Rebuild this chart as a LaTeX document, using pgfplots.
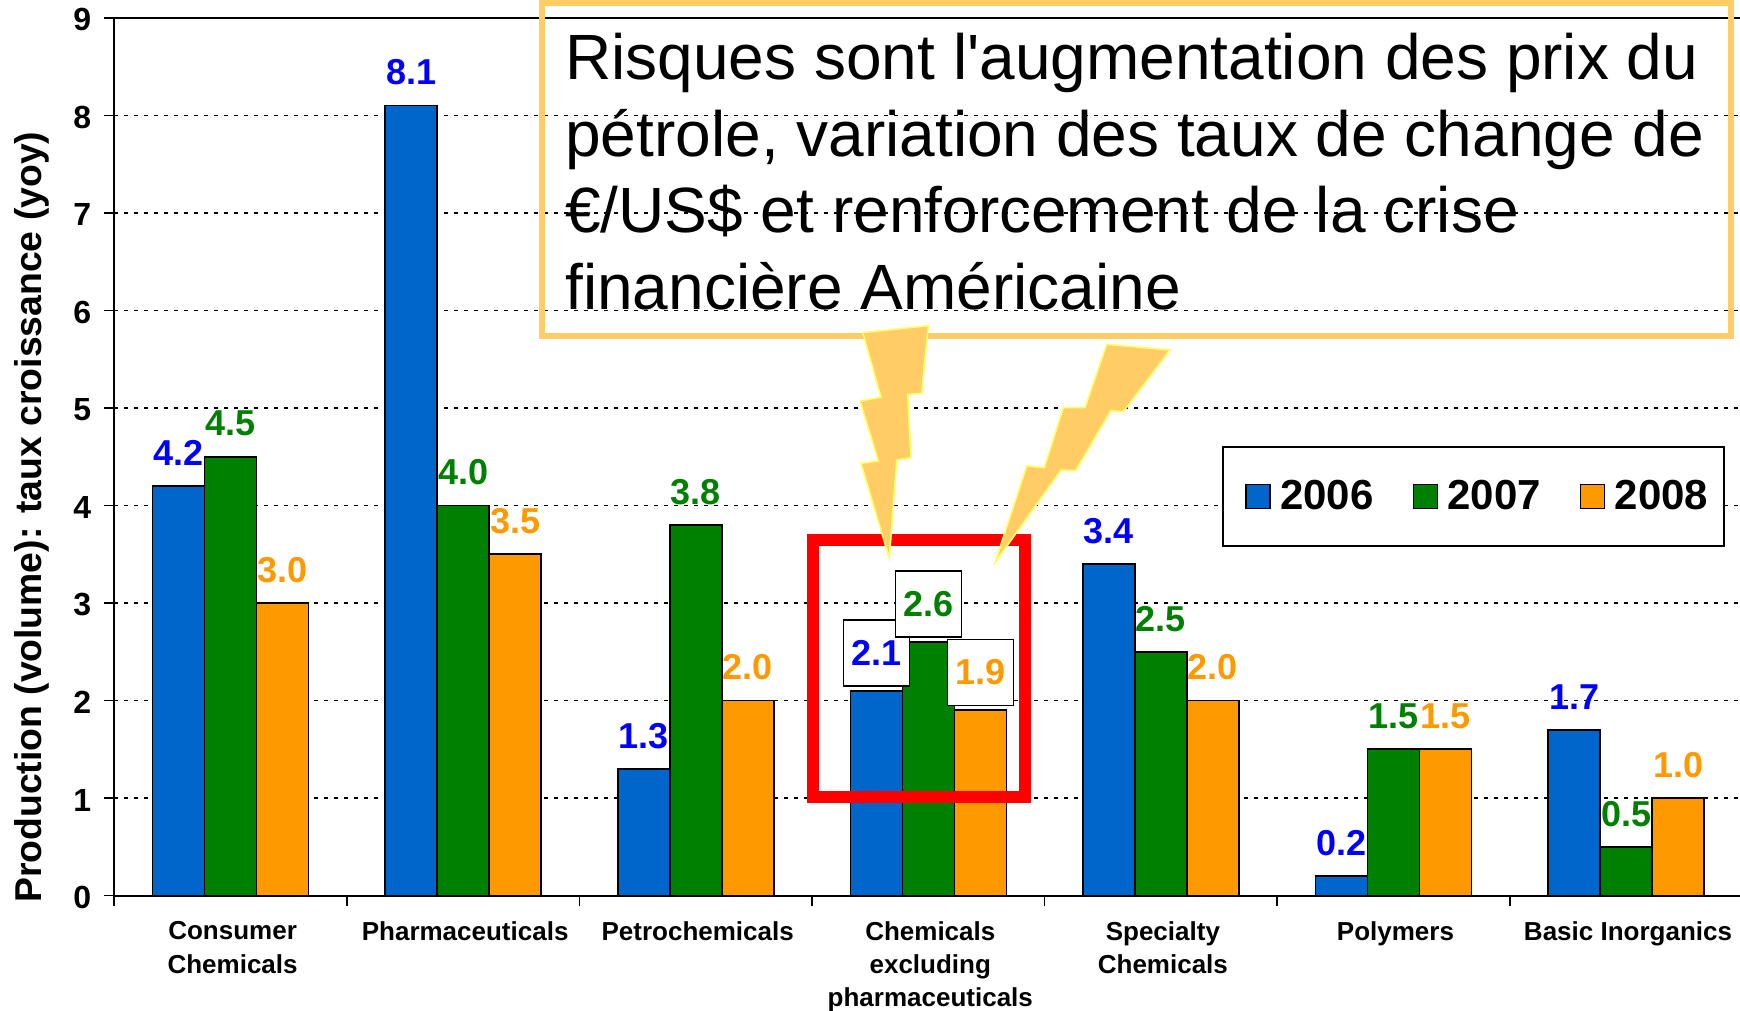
\documentclass[border=0pt]{standalone}
\usepackage{fontspec}
\setmainfont{Liberation Sans}
\newfontfamily\calloutfont{Liberation Sans}
\usepackage{pgfplots}
\usepackage{pgfplotstable}
\pgfplotsset{compat=1.18}
\definecolor{barblue}{HTML}{0066CC}
\definecolor{bargreen}{HTML}{008000}
\definecolor{barorange}{HTML}{FF9900}
\definecolor{callout}{HTML}{FFCC66}
\definecolor{boltedge}{HTML}{FFFF66}
\pgfplotstableread{
x y
0 4.2
1 8.1
2 1.3
3 2.1
4 3.4
5 0.2
6 1.7
}\dataA
\pgfplotstableread{
x y
0 4.5
1 4.0
2 3.8
3 2.6
4 2.5
5 1.5
6 0.5
}\dataB
\pgfplotstableread{
x y
0 3.0
1 3.5
2 2.0
3 1.9
4 2.0
5 1.5
6 1.0
}\dataC
\pgfplotsset{
  barstyle/.style={ybar,bar width=26pt,draw=black,line width=0.8pt},
  labelstyle/.style 2 args={ybar,bar width=26pt,draw=none,fill=none,forget plot,
    nodes near coords={\pgfmathprintnumber[fixed,fixed zerofill,precision=1,assume math mode=true]{\pgfplotspointmeta}},
    nodes near coords style={font=\fontsize{18}{20}\selectfont\bfseries,text=#1,inner sep=0pt,yshift=10pt,xshift=#2,anchor=south},
    coordinate style/.condition={x==3}{draw=black,line width=0.8pt,fill=white,minimum size=33pt,yshift=-8pt,anchor=south,inner sep=0pt},
  },
}
\begin{document}
\begin{tikzpicture}
\useasboundingbox (0,0) rectangle (870pt,505.5pt);
\begin{axis}[
  at={(57.15pt,57.7pt)},anchor=south west,
  scale only axis,width=814pt,height=438.9pt,
  xmin=-0.5,xmax=6.5,ymin=0,ymax=9,
  axis x line*=bottom,axis y line*=left,
  axis line style={line width=1pt,black},
  clip=false,
  ytick={0,...,9},
  xtick={0,...,6},
  minor xtick={-0.5,0.5,...,6.5},
  xticklabels={{Consumer\\Chemicals},Pharmaceuticals,Petrochemicals,{Chemicals\\excluding\\pharmaceuticals},{Specialty\\Chemicals},Polymers,Basic Inorganics},
  tick align=outside,
  major tick length=5pt,minor tick length=5pt,
  major x tick style={draw=none},
  tick style={line width=0.8pt,black},
  ymajorgrids,
  grid style={black,line width=0.8pt,dash pattern=on 2pt off 3pt},
  yticklabel style={font=\fontsize{16}{18}\selectfont\bfseries,/pgf/number format/assume math mode=true,xshift=-3pt,yshift=-1pt},
  xticklabel style={font=\fontsize{13}{16.6}\selectfont\bfseries,align=center,anchor=north,yshift=-4.5pt,xshift=1pt},
  ylabel={Production (volume): taux croissance (yoy)},
  ylabel style={at={(axis description cs:-0.0505,0.431)},anchor=center,font=\fontsize{18.67}{20}\selectfont\bfseries},
  legend style={at={(0.6802,0.512)},anchor=north west,legend columns=3,draw=black,line width=1pt,
    font=\fontsize{21}{24}\selectfont\bfseries,inner xsep=5.8pt,inner ysep=14.5pt,
    /tikz/every even column/.style={column sep=11.9pt},
    /tikz/every odd column/.style={column sep=2.7pt}},
  legend image code/.code={\path (0pt,0pt); \draw[#1,line width=0.8pt] (5.5pt,-6pt) rectangle (17.5pt,6pt);},
]
\addplot[barstyle,fill=barblue,bar shift=-26pt] table[x=x,y=y]{\dataA};
\addlegendentry{2006}
\addplot[barstyle,fill=bargreen,bar shift=0pt] table[x=x,y=y]{\dataB};
\addlegendentry{2007}
\addplot[barstyle,fill=barorange,bar shift=26pt] table[x=x,y=y]{\dataC};
\addlegendentry{2008}
\addplot[labelstyle={blue}{-26pt},bar shift=-26pt] table[x=x,y=y]{\dataA};
\addplot[labelstyle={bargreen}{0pt},bar shift=0pt] table[x=x,y=y]{\dataB};
\addplot[labelstyle={barorange}{26pt},bar shift=26pt] table[x=x,y=y]{\dataC};
\draw[black,line width=1pt] (rel axis cs:0,1) -- (rel axis cs:1,1);
\end{axis}
\begin{scope}[x=0.5pt,y=-0.5pt,yshift=505.5pt]
% red frame
\draw[red,line width=6pt] (813.3,540) rectangle (1025,796.7);
% callout
\draw[callout,line width=3pt] (541.5,3.5) rectangle (1731,336);
\foreach \yy/\tt in {80/{Risques sont l'augmentation des prix du},156.5/{pétrole, variation des taux de change de},233/{€/US\$ et renforcement de la crise},310/{financière Américaine}}{
  \node[anchor=base west,inner sep=0pt,font=\fontsize{32}{36}\calloutfont] at (565,\yy) {\tt};
}
% bolts
\draw[boltedge,fill=callout,line width=0.8pt] (862.7,332.7)--(881,397.3)--(860,401)--(878.3,461)--(861,463.3)--(889.3,558.3)--(896.7,460)--(911,457.7)--(907.7,394.3)--(921.7,393.3)--(928.3,325.7)--cycle;
\draw[boltedge,fill=callout,line width=0.8pt] (1106.7,344.3)--(1170,350)--(1123.3,411.7)--(1110.7,410.7)--(1075.7,470.7)--(1061,470)--(995,562.7)--(1026.7,466)--(1044.3,467.7)--(1063.3,407.7)--(1085,407.7)--cycle;
\end{scope}
\end{tikzpicture}
\end{document}
